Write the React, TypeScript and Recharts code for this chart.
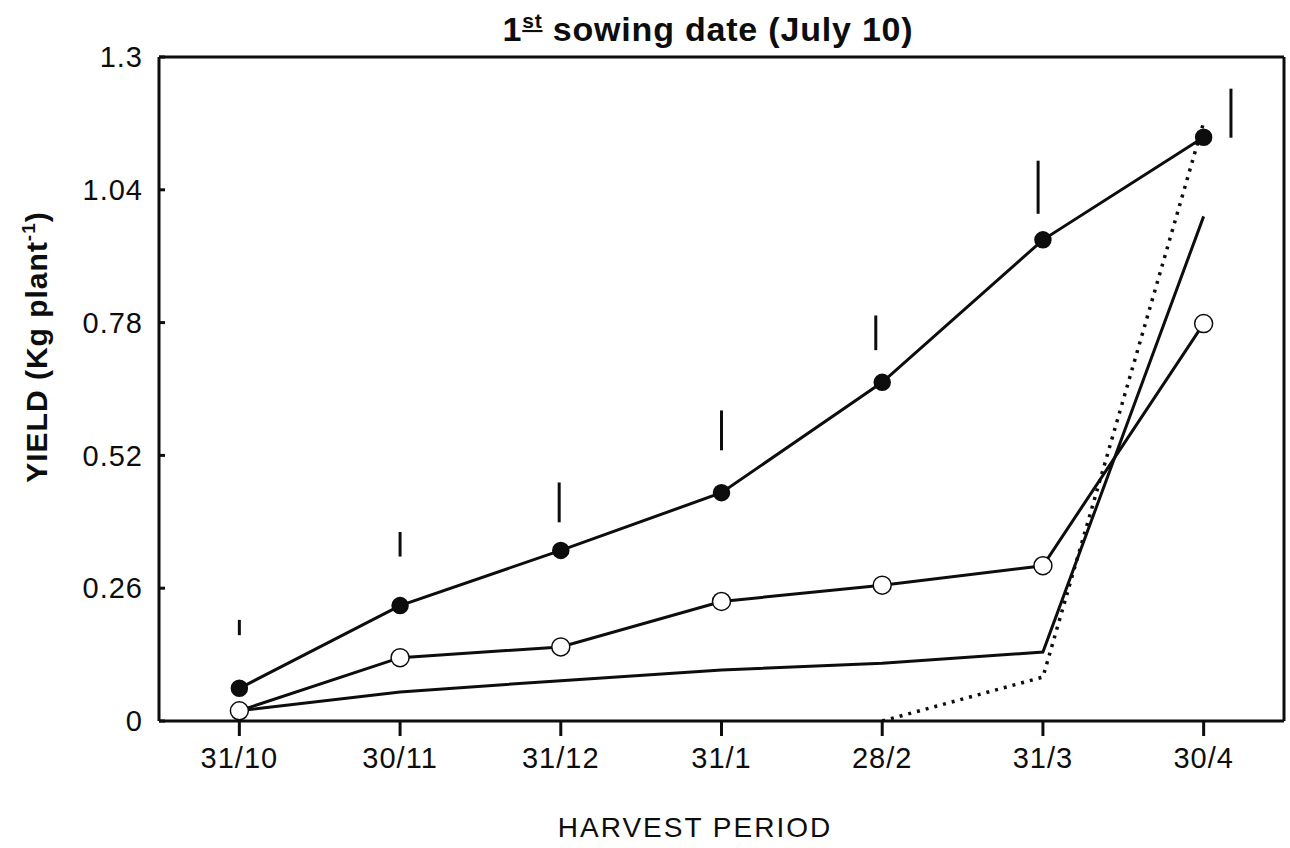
import {
  ComposedChart,
  Customized,
  ErrorBar,
  Line,
  ReferenceLine,
  Scatter,
  XAxis,
  YAxis,
} from 'recharts';

// harvest dates, placed at 0..6 on a numeric axis so the LSD bars can sit off-centre
const HARVEST_X = [0, 1, 2, 3, 4, 5, 6];
const HARVEST_LABELS = ['31/10', '30/11', '31/12', '31/1', '28/2', '31/3', '30/4'];
const Y_TICKS = [0, 0.26, 0.52, 0.78, 1.04, 1.3];

// yield, Kg plant-1
const FILLED = [0.064, 0.226, 0.334, 0.447, 0.663, 0.942, 1.143];
const OPEN = [0.02, 0.124, 0.145, 0.234, 0.266, 0.304, 0.778];
const PLAIN = [0.02, 0.057, 0.079, 0.1, 0.113, 0.135, 0.988];
const DOTTED = [null, null, null, null, 0, 0.086, 1.172];

// LSD bars: position, centre and half-length
const LSD_X = [0, 1, 1.99, 3, 3.96, 4.97, 6.17];
const LSD_MID = [0.183, 0.346, 0.428, 0.569, 0.76, 1.045, 1.19];
const LSD_HALF = [0.015, 0.024, 0.039, 0.039, 0.034, 0.052, 0.048];

const rows = HARVEST_X.map((x, i) => ({
  x,
  filled: FILLED[i],
  open: OPEN[i],
  plain: PLAIN[i],
  dotted: DOTTED[i],
}));

const lsdRows = LSD_X.map((x, i) => ({ x, mid: LSD_MID[i], half: LSD_HALF[i] }));

const FONT = '"Liberation Sans", Arial, Helvetica, sans-serif';
const INK = '#0d0d0d';
const TICK_STYLE = { fontSize: 29, fill: INK, fontFamily: FONT, letterSpacing: 1 };

function Title() {
  return (
    <text
      x={708}
      y={41}
      textAnchor="middle"
      fontFamily={FONT}
      fontWeight="bold"
      fontSize={34}
      letterSpacing={0.8}
      fill={INK}
    >
      1
      <tspan dy={-13} fontSize={21} textDecoration="underline">
        st
      </tspan>
      <tspan dy={13}> sowing date (July 10)</tspan>
    </text>
  );
}

function YTitle() {
  return (
    <text
      transform="translate(47,347) rotate(-90)"
      textAnchor="middle"
      fontFamily={FONT}
      fontWeight="bold"
      fontSize={30}
      letterSpacing={1}
      fill={INK}
    >
      YIELD (Kg plant
      <tspan dy={-12} fontSize={19}>
        -1
      </tspan>
      <tspan dy={12}>)</tspan>
    </text>
  );
}

function XTitle() {
  return (
    <text x={695} y={837} textAnchor="middle" fontFamily={FONT} fontSize={28} letterSpacing={2} fill={INK}>
      HARVEST PERIOD
    </text>
  );
}

export default function App() {
  return (
    <div style={{ position: 'absolute', left: 0, top: 0, background: '#fff' }}>
      <ComposedChart width={1290} height={848} data={rows} margin={{ top: 57, right: 0, bottom: 67, left: 0 }}>
        <XAxis
          dataKey="x"
          type="number"
          domain={[-0.5, 6.5]}
          ticks={HARVEST_X}
          tickFormatter={(v: number) => HARVEST_LABELS[v] ?? ''}
          height={60}
          tickSize={15}
          tickMargin={11}
          tick={TICK_STYLE}
          stroke={INK}
          strokeWidth={3}
          allowDataOverflow
        />
        <YAxis
          yAxisId="left"
          type="number"
          domain={[0, 1.3]}
          ticks={Y_TICKS}
          width={159}
          tickSize={-6}
          tickMargin={22}
          tick={TICK_STYLE}
          stroke={INK}
          strokeWidth={3}
          allowDataOverflow
        />
        <YAxis
          yAxisId="right"
          orientation="right"
          type="number"
          domain={[0, 1.3]}
          ticks={Y_TICKS}
          width={6}
          tickSize={-6}
          tick={false}
          stroke={INK}
          strokeWidth={3}
          allowDataOverflow
        />
        <ReferenceLine yAxisId="left" y={1.3} stroke={INK} strokeWidth={3} />
        <Line
          yAxisId="left"
          dataKey="plain"
          stroke={INK}
          strokeWidth={3}
          dot={false}
          isAnimationActive={false}
        />
        <Line
          yAxisId="left"
          dataKey="dotted"
          stroke={INK}
          strokeWidth={3.5}
          strokeDasharray="3 6"
          dot={false}
          connectNulls={false}
          isAnimationActive={false}
        />
        <Line
          yAxisId="left"
          dataKey="open"
          stroke={INK}
          strokeWidth={3}
          dot={{ r: 9, fill: '#fff', stroke: INK, strokeWidth: 1.5 }}
          isAnimationActive={false}
        />
        <Line
          yAxisId="left"
          dataKey="filled"
          stroke={INK}
          strokeWidth={3}
          dot={{ r: 8, fill: INK, stroke: INK, strokeWidth: 1.5 }}
          isAnimationActive={false}
        />
        <Scatter yAxisId="left" data={lsdRows} dataKey="mid" shape={() => <g />} isAnimationActive={false}>
          <ErrorBar dataKey="half" direction="y" width={0} stroke={INK} strokeWidth={3} />
        </Scatter>
        <Customized component={Title} />
        <Customized component={YTitle} />
        <Customized component={XTitle} />
      </ComposedChart>
    </div>
  );
}
